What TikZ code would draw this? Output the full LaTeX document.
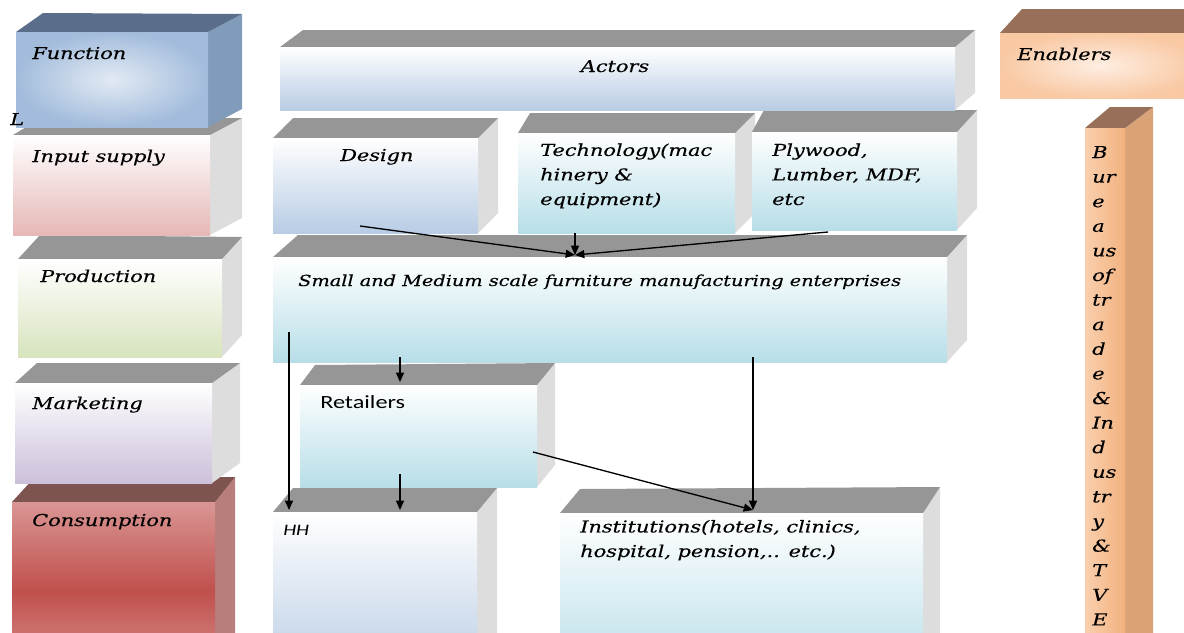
\documentclass[tikz,border=0pt]{standalone}
\usepackage{fontspec}
\setmainfont{DejaVu Serif}[FakeStretch=1.27, FakeBold=0.3]
\newfontfamily\calibrish{Carlito}[FakeStretch=1.3]
\usetikzlibrary{arrows.meta,
                calc,
                fit}

\definecolor{topgray}{HTML}{969696}
\definecolor{sidegray}{HTML}{DDDDDD}
\definecolor{slatetop}{HTML}{5A6E8C}
\definecolor{slateside}{HTML}{819BBB}
\definecolor{slatelight}{HTML}{E2EAF4}
\definecolor{slatedark}{HTML}{A3BCDC}
\definecolor{wine}{HTML}{7E5451}
\definecolor{wineside}{HTML}{B77E7C}
\definecolor{rose}{HTML}{D99694}
\definecolor{rosedark}{HTML}{C0504D}
\definecolor{pink}{HTML}{E6B8B7}
\definecolor{lime}{HTML}{D7E4BD}
\definecolor{lilac}{HTML}{CCC0DA}
\definecolor{brown}{HTML}{98705A}
\definecolor{peachside}{HTML}{DAA277}
\definecolor{peachlight}{HTML}{FEEEE2}
\definecolor{peach}{HTML}{F9C9A4}
\definecolor{peachleft}{HTML}{F9CFAE}
\definecolor{peachmid}{HTML}{FDE6D4}
\definecolor{peachright}{HTML}{F3B27E}
\definecolor{skyblue}{HTML}{B8CCE4}
\definecolor{aqua}{HTML}{B7DEE8}

% front face, top face and side face of one solid block
% #1 name, #2 front top left, #3 front bottom right,
% #4/#5 depth of the left/right back corners, #6 front shading,
% #7 top colour, #8 side colour
\newcommand\solidbox[8]{%
    \coordinate (#1-nw) at #2;
    \coordinate (#1-se) at #3;
    \coordinate (#1-ne) at (#1-nw -| #1-se);
    \fill[#8] (#1-ne) -- ($(#1-ne)+#5$) -- ($(#1-se)+#5$) -- (#1-se) -- cycle;
    \fill[#7] (#1-nw) -- ($(#1-nw)+#4$) -- ($(#1-ne)+#5$) -- (#1-ne) -- cycle;
    \shade[#6] (#1-nw) rectangle (#1-se);
    \node[fit=(#1-nw)(#1-se), inner sep=0pt] (#1) {};
}

\tikzset{
    lbl/.style = {inner sep=0pt, anchor=base west, align=left,
                  font=\fontsize{12.3}{18.4}\selectfont\itshape},
    flow/.style = {-{Triangle[length=7pt,width=6pt]}, line width=1pt},
    fade/.style = {top color=white, bottom color=#1}
}

\begin{document}
\begin{tikzpicture}%
    [x=0.75pt, y=-0.75pt]
    \useasboundingbox (0,0) rectangle (1184,632);
    \clip (0,0) rectangle (1184,632);

    % functions, left column
    \solidbox{cons}{(12,502)}{(215,680)}{(22,-24)}{(20,-25)}%
        {top color=rose, bottom color=rose, middle color=rosedark}{wine}{wineside}
    \solidbox{mark}{(15,383)}{(212,483)}{(22,-20)}{(28,-20)}{fade=lilac}{topgray}{sidegray}
    \solidbox{prod}{(18,259)}{(222,357)}{(22,-24)}{(20,-22)}{fade=lime}{topgray}{sidegray}
    \solidbox{input}{(13,135)}{(210,235)}{(28,-17)}{(32,-17)}{fade=pink}{topgray}{sidegray}
    \solidbox{func}{(16,32)}{(208,127)}{(27,-19)}{(34,-18)}%
        {inner color=slatelight, outer color=slatedark}{slatetop}{slateside}
    \node[lbl] (stray) at (10,125) {L};

    % actors
    \solidbox{hh}{(273,512)}{(477,680)}{(20,-24)}{(20,-24)}{fade=skyblue}{topgray}{sidegray}
    \solidbox{inst}{(560,513)}{(923,680)}{(20,-24)}{(17,-26)}{fade=aqua}{topgray}{sidegray}
    \solidbox{retail}{(300,385)}{(537,487)}{(15,-20)}{(18,-22)}{fade=aqua}{topgray}{sidegray}
    \solidbox{sme}{(273,257)}{(947,362)}{(25,-22)}{(20,-22)}{fade=aqua}{topgray}{sidegray}
    \solidbox{design}{(273,138)}{(478,233)}{(20,-20)}{(20,-20)}{fade=skyblue}{topgray}{sidegray}
    \solidbox{tech}{(518,133)}{(735,233)}{(12,-20)}{(20,-20)}{fade=aqua}{topgray}{sidegray}
    \solidbox{ply}{(752,132)}{(957,230)}{(12,-22)}{(20,-22)}{fade=aqua}{topgray}{sidegray}
    \solidbox{actors}{(280,47)}{(955,110)}{(23,-17)}{(20,-17)}{fade=skyblue}{topgray}{sidegray}

    % enablers, right column
    \solidbox{enab}{(1000,33)}{(1200,98)}{(22,-24)}{(22,-24)}%
        {inner color=peachlight, outer color=peach}{brown}{peachside}
    \solidbox{bureau}{(1085,128)}{(1125,680)}{(25,-21)}{(28,-21)}%
        {left color=peachleft, middle color=peachmid, right color=peachright}{brown}{peachside}

    % labels (multi-line ones sit on their last baseline)
    \node[lbl] (t-func) at (32,59) {Function};
    \node[lbl] (t-input) at (32,162) {Input supply};
    \node[lbl] (t-prod) at (40,282) {Production};
    \node[lbl] (t-mark) at (32,409) {Marketing};
    \node[lbl] (t-cons) at (32,526) {Consumption};
    \node[lbl, anchor=base] (t-act) at (615,72) {Actors};
    \node[lbl] (t-des) at (340,161) {Design};
    \node[lbl] (t-tech) at (540,205) {Technology(mac\\hinery \&\\equipment)};
    \node[lbl] (t-ply) at (772,205) {Plywood,\\Lumber, MDF,\\etc};
    \node[lbl, font=\fontsize{11.4}{17}\selectfont\itshape] (t-sme) at (298,286) {Small and Medium scale furniture manufacturing enterprises};
    \node[lbl, font=\calibrish\fontsize{14}{17}\selectfont] (t-ret) at (320,408) {Retailers};
    \node[lbl, font=\calibrish\fontsize{12}{14}\selectfont\itshape] (t-hh) at (283,535) {HH};
    \node[lbl] (t-inst) at (580,557) {Institutions(hotels, clinics,\\hospital, pension,.. etc.)};
    \node[lbl] (t-enab) at (1017,60) {Enablers};
    \foreach \s [count=\i from 0] in {B,ur,e,a,us,of,tr,a,d,e,\&,In,d,us,tr,y,\&,T,V,E}
        \node[lbl] (bur-\i) at (1092,{158+24.6*\i}) {\s};

    % flows between actors
    \coordinate (design-out) at (360,226);
    \coordinate (tech-out) at (575,233);
    \coordinate (ply-out) at (828,232);
    \coordinate (sme-in) at (575,255);
    \coordinate (sme-hh) at (289,332);
    \coordinate (sme-ret) at (400,357);
    \coordinate (sme-inst) at (753,357);
    \coordinate (ret-hh) at (400,474);
    \coordinate (ret-inst) at (533,452);
    \coordinate (hh-in) at (289,510);
    \coordinate (hh-in2) at (400,510);
    \coordinate (ret-in) at (400,382);
    \coordinate (inst-in) at (753,510);

    \draw[flow] (design-out) -- (sme-in);
    \draw[flow] (tech-out) -- (sme-in);
    \draw[flow] (ply-out) -- (sme-in);
    \draw[flow] (sme-hh) -- (hh-in);
    \draw[flow] (sme-ret) -- (ret-in);
    \draw[flow] (ret-hh) -- (hh-in2);
    \draw[flow] (ret-inst) -- (inst-in);
    \draw[flow] (sme-inst) -- (inst-in);
\end{tikzpicture}
\end{document}
